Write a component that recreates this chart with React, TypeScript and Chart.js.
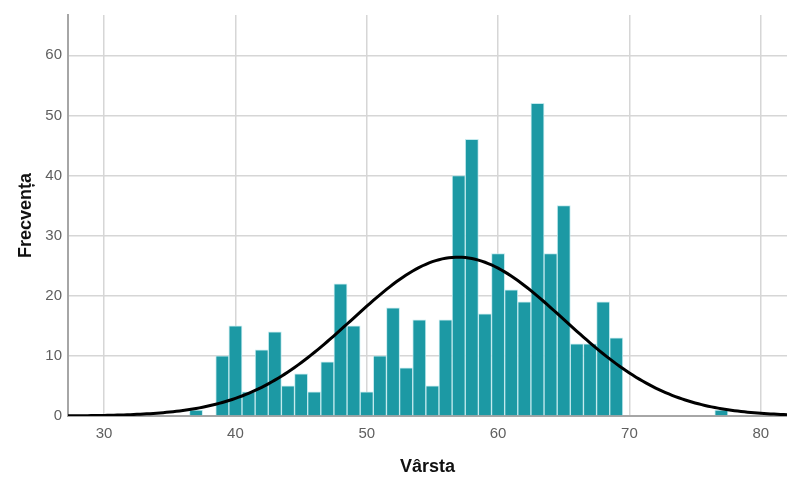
import React, { useEffect, useRef } from "react";
import { Chart, registerables } from "chart.js";

Chart.register(...registerables);

const ages = [37, 39, 40, 41, 42, 43, 44, 45, 46, 47, 48, 49, 50, 51, 52, 53, 54, 55, 56, 57, 58, 59, 60, 61, 62, 63, 64, 65, 66, 67, 68, 69, 77];
const counts = [1, 10, 15, 4, 11, 14, 5, 7, 4, 9, 22, 15, 4, 10, 18, 8, 16, 5, 16, 40, 46, 17, 27, 21, 19, 52, 27, 35, 12, 12, 19, 13, 1];
const xTicks = [30, 40, 50, 60, 70, 80];
const yTicks = [0, 10, 20, 30, 40, 50, 60];

const X_MIN = 27.25;
const X_MAX = 82;
const Y_MAX = 66.7;

export default function App() {
  const ref = useRef<HTMLCanvasElement | null>(null);

  useEffect(() => {
    if (!ref.current) return;
    const n = counts.reduce((a, b) => a + b, 0);
    const mean = ages.reduce((s, a, i) => s + a * counts[i], 0) / n;
    const variance = ages.reduce((s, a, i) => s + counts[i] * (a - mean) ** 2, 0) / (n - 1);
    const sd = Math.sqrt(variance);
    const curve: { x: number; y: number }[] = [];
    for (let x = X_MIN; x <= X_MAX + 1e-9; x += 0.25) {
      const y = (n / (sd * Math.sqrt(2 * Math.PI))) * Math.exp(-((x - mean) ** 2) / (2 * sd * sd));
      curve.push({ x, y });
    }
    const bars = ages.map((a, i) => ({ x: a, y: counts[i] }));

    const chart = new Chart(ref.current, {
      type: "bar",
      data: {
        datasets: [
          {
            type: "line",
            data: curve,
            borderColor: "#000000",
            borderWidth: 3,
            pointRadius: 0,
            fill: false,
            tension: 0,
            order: 0,
          } as any,
          {
            type: "bar",
            data: bars,
            backgroundColor: "rgb(28,153,164)",
            borderColor: "rgba(190,232,236,0.9)",
            borderWidth: 1,
            barPercentage: 1,
            categoryPercentage: 1,
            order: 1,
          } as any,
        ],
      },
      options: {
        animation: false,
        responsive: false,
        maintainAspectRatio: false,
        layout: { padding: { top: 10, right: 0, left: 0, bottom: 0 } },
        plugins: { legend: { display: false }, tooltip: { enabled: false } },
        scales: {
          x: {
            type: "linear",
            min: X_MIN,
            max: X_MAX,
            offset: false,
            afterBuildTicks: (scale: any) => {
              scale.ticks = xTicks.map((v) => ({ value: v }));
            },
            afterFit: (scale: any) => {
              scale.height = 62;
            },
            ticks: {
              color: "#5f5f5f",
              font: { family: "Liberation Sans, Arial, sans-serif", size: 15 },
              padding: 9,
              maxRotation: 0,
            },
            grid: { color: "#d6d6d6", lineWidth: 1.5, drawTicks: false, offset: false },
            border: { color: "#a6a6a6", width: 2 },
            title: {
              display: true,
              text: "Vârsta",
              color: "#111111",
              font: { family: "Liberation Sans, Arial, sans-serif", size: 18, weight: "bold" },
              padding: { top: 10, bottom: 0 },
            },
          },
          y: {
            min: 0,
            max: Y_MAX,
            afterBuildTicks: (scale: any) => {
              scale.ticks = yTicks.map((v) => ({ value: v }));
            },
            afterFit: (scale: any) => {
              scale.width = 68;
            },
            ticks: {
              color: "#5f5f5f",
              font: { family: "Liberation Sans, Arial, sans-serif", size: 15 },
              padding: 6,
            },
            grid: { color: "#d6d6d6", lineWidth: 1.5, drawTicks: false },
            border: { color: "#a6a6a6", width: 2 },
            title: {
              display: true,
              text: "Frecvența",
              color: "#111111",
              font: { family: "Liberation Sans, Arial, sans-serif", size: 18, weight: "bold" },
              padding: { top: 15, bottom: 0 },
            },
          },
        },
      },
    });
    return () => chart.destroy();
  }, []);

  return (
    <div style={{ position: "fixed", left: 0, top: 0, width: 787, height: 478, background: "#fff" }}>
      <canvas ref={ref} width={787} height={478} style={{ display: "block", width: 787, height: 478 }} />
    </div>
  );
}
